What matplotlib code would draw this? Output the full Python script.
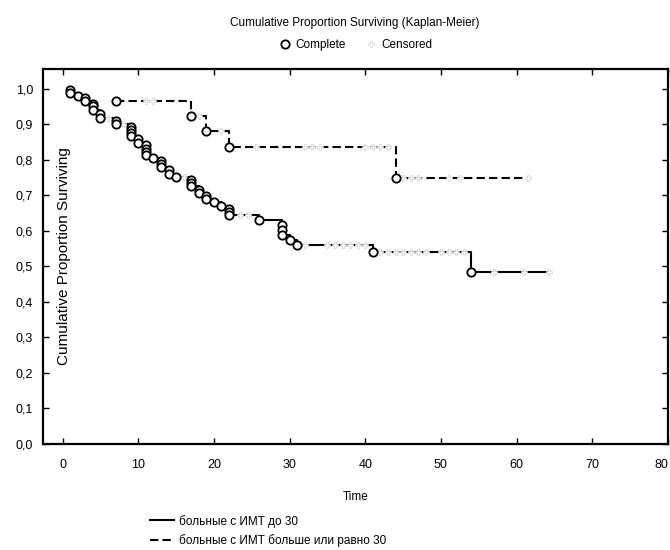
import numpy as np
import matplotlib
matplotlib.use("Agg")
import matplotlib.pyplot as plt
from matplotlib.lines import Line2D
from matplotlib.ticker import FuncFormatter

plt.rcParams["font.family"] = ["Liberation Sans", "DejaVu Sans"]

# group 1: BMI < 30 -- event times and survival at each event (one circle each)
t_low = [1, 1, 2, 3, 3, 4, 4, 4, 5, 5, 7, 7, 9, 9, 9, 9, 10, 10, 11, 11, 11, 11, 12,
         13, 13, 13, 14, 14, 15, 17, 17, 17, 18, 18, 19, 19, 20, 21, 22, 22, 22,
         26, 29, 29, 29, 30, 31, 41, 54]
s_low = [0.995, 0.987, 0.980, 0.973, 0.965, 0.958, 0.950, 0.940, 0.928, 0.918,
         0.910, 0.900, 0.893, 0.884, 0.875, 0.866, 0.857, 0.848, 0.840, 0.831,
         0.822, 0.813, 0.805, 0.797, 0.788, 0.779, 0.770, 0.761, 0.752, 0.743,
         0.734, 0.725, 0.716, 0.707, 0.698, 0.689, 0.680, 0.671, 0.662, 0.653,
         0.644, 0.631, 0.617, 0.603, 0.589, 0.575, 0.559, 0.539, 0.483]
cens_low = [6, 8, 16, 23.5, 24.5, 32, 35, 36, 37, 38, 39, 40, 42, 43, 44, 45, 46,
            47, 48, 50, 51, 52, 53, 57, 61, 64.3]

# group 2: BMI >= 30
t_high = [7, 17, 19, 22, 44]
s_high = [0.964, 0.922, 0.880, 0.836, 0.748]
cens_high = [11, 12, 18, 21, 25.5, 32, 33, 34, 40, 41, 42, 43, 45, 46, 47, 51,
             52.5, 61.5]

LABELS = ["больные с ИМТ до 30", "больные с ИМТ больше или равно 30"]
DASH = (4, 2)
CENS = dict(marker="P", ms=5, mfc="white", mec="#d0d0d0", mew=0.5)
COMP = dict(marker="o", ms=6, mfc="white", mec="black", mew=1.3)


def level_at(times, surv, t):
    """survival level of the step curve at time t"""
    times = np.asarray(times); surv = np.asarray(surv)
    i = np.searchsorted(times, t, side="right") - 1
    return surv[i]


def draw_group(ax, times, surv, cens, ls):
    end = max(cens[-1], times[-1])
    x = list(times) + [end]
    y = list(surv) + [surv[-1]]
    kw = dict(color="black", lw=1.5, drawstyle="steps-post", zorder=2)
    if ls == "--":
        ax.plot(x, y, dashes=DASH, **kw)
    else:
        ax.plot(x, y, ls=ls, **kw)
    cy = [level_at(times, surv, c) for c in cens]
    ax.plot(cens, cy, ls="none", zorder=3, **CENS)
    ax.plot(times, surv, ls="none", zorder=4, **COMP)


fig = plt.figure(figsize=(6.7, 5.5), dpi=100)
ax = fig.add_axes([0.064, 0.193, 0.933, 0.682])

draw_group(ax, t_low, s_low, cens_low, "-")
draw_group(ax, t_high, s_high, cens_high, "--")

ax.set_xlim(-2.6, 80)
ax.set_ylim(0, 1.056)
ax.set_xticks(np.arange(0, 81, 10))
ax.set_yticks(np.arange(0, 1.01, 0.1))
ax.yaxis.set_major_formatter(FuncFormatter(lambda v, p: f"{v:.1f}".replace(".", ",")))
ax.tick_params(direction="in", top=True, right=True, length=4, width=1,
               labelsize=9, pad=7)
ax.tick_params(axis="x", pad=11)
ax.get_xticklabels()[-1].set_horizontalalignment("right")   # keep "80" inside the figure
for sp in ax.spines.values():
    sp.set_linewidth(1.6)

# the y label sits inside the plot area, as in the original
ax.text(0.022, 0.5, "Cumulative Proportion Surviving", rotation=90,
        transform=ax.transAxes, ha="left", va="center", fontsize=11)
ax.set_xlabel("Time", fontsize=8.5, labelpad=14)

fig.text(0.53, 0.958, "Cumulative Proportion Surviving (Kaplan-Meier)",
         ha="center", va="center", fontsize=8.5)
top_handles = [Line2D([], [], ls="none", **COMP), Line2D([], [], ls="none", **CENS)]
fig.legend(top_handles, ["Complete", "Censored"], loc="center", ncol=2,
           bbox_to_anchor=(0.53, 0.918), frameon=False, fontsize=8.5,
           handletextpad=0.3, columnspacing=1.5, handlelength=1.2)

bot_handles = [
    Line2D([], [], color="black", lw=1.5),
    Line2D([], [], color="black", lw=1.5, dashes=DASH),
]
fig.legend(bot_handles, LABELS, loc="upper left", bbox_to_anchor=(0.215, 0.075),
           frameon=False, fontsize=8.5, handlelength=2.0, handletextpad=0.5,
           labelspacing=0.55, borderpad=0)

fig.savefig("out.png", dpi=100)
